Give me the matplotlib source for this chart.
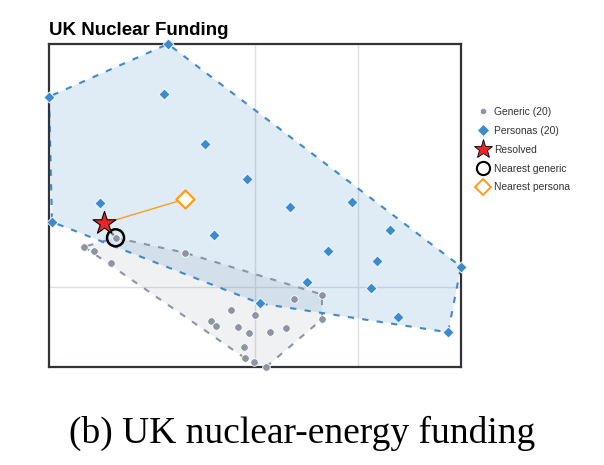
import numpy as np
import matplotlib
matplotlib.use("Agg")
import matplotlib.pyplot as plt
from matplotlib.lines import Line2D

# ---- data ----
persona_x = [-0.845, -2.0, -0.883, -0.485, -0.078, -1.505, -1.971, -0.398, 0.049, 0.340,
             0.942, 1.311, 0.709, 1.184, 0.505, 1.126, 1.388, 1.874, 2.0, -0.680]
persona_y = [2.369, 1.854, 1.883, 1.388, 1.049, 0.816, 0.631, 0.505, -0.165, 0.777,
             0.825, 0.553, 0.350, 0.252, 0.049, -0.019, -0.301, -0.447, 0.194, 0.854]
generic_x = [-1.660, -1.563, -1.398, -1.354, -0.680, 0.379, 0.650, 0.650, -0.233, 0.0,
             -0.427, -0.379, -0.165, -0.058, 0.146, 0.301, -0.107, -0.097, -0.010, 0.107]
generic_y = [0.388, 0.350, 0.233, 0.476, 0.330, -0.117, -0.078, -0.320, -0.233, -0.282,
             -0.340, -0.388, -0.398, -0.456, -0.447, -0.408, -0.592, -0.699, -0.738, -0.786]
resolved_xy = [-1.463, 0.618]
nearest_generic_idx = 3
nearest_persona_idx = 19

title = "UK Nuclear Funding"
caption = "(b) UK nuclear-energy funding"
legend_labels = ["Generic (20)", "Personas (20)", "Resolved", "Nearest generic", "Nearest persona"]

BLUE = "#3d8bcd"
GRAY = "#8e94a2"
ORANGE = "#ff9c1a"
RED = "#e8262a"


def hull(xs, ys):
    pts = sorted(set(zip(xs, ys)))
    def cross(o, a, b):
        return (a[0]-o[0])*(b[1]-o[1]) - (a[1]-o[1])*(b[0]-o[0])
    lower, upper = [], []
    for p in pts:
        while len(lower) >= 2 and cross(lower[-2], lower[-1], p) <= 0:
            lower.pop()
        lower.append(p)
    for p in reversed(pts):
        while len(upper) >= 2 and cross(upper[-2], upper[-1], p) <= 0:
            upper.pop()
        upper.append(p)
    h = lower[:-1] + upper[:-1]
    return np.array(h + [h[0]])


fig = plt.figure(figsize=(6.04, 4.65), dpi=100)
ax = fig.add_axes([49/604, 1-367/465, (461-49)/604, (367-44)/465])

ax.set_xlim(min(persona_x), max(persona_x))
ax.set_ylim(min(generic_y), max(persona_y))
ax.set_xticks([0, 1])
ax.set_yticks([0])
ax.tick_params(length=0, labelbottom=False, labelleft=False)
ax.grid(True, color="#dcdfe3", lw=1.0)
ax.set_axisbelow(True)
for s in ax.spines.values():
    s.set_color("#30343a")
    s.set_linewidth(1.6)

gh = hull(generic_x, generic_y)
ph = hull(persona_x, persona_y)
ax.fill(gh[:, 0], gh[:, 1], color=GRAY, alpha=0.13, lw=0, zorder=1)
ax.fill(ph[:, 0], ph[:, 1], color=BLUE, alpha=0.16, lw=0, zorder=1)
ax.plot(gh[:, 0], gh[:, 1], color=GRAY, lw=1.5, ls=(0, (3, 4)), zorder=2, clip_on=False)
ax.plot(ph[:, 0], ph[:, 1], color=BLUE, lw=1.5, ls=(0, (3, 4)), zorder=2, clip_on=False)

ax.scatter(generic_x, generic_y, s=30, marker="o", color=GRAY, edgecolors="white",
           linewidths=0.6, zorder=3, clip_on=False)
ax.scatter(persona_x, persona_y, s=32, marker="D", color=BLUE, edgecolors="white",
           linewidths=0.6, zorder=3, clip_on=False)

ngx, ngy = generic_x[nearest_generic_idx], generic_y[nearest_generic_idx]
npx, npy = persona_x[nearest_persona_idx], persona_y[nearest_persona_idx]
ax.plot([resolved_xy[0], npx], [resolved_xy[1], npy], color=ORANGE, lw=1.0, zorder=4)
ax.plot([resolved_xy[0], ngx], [resolved_xy[1], ngy], color="#777b82", lw=1.5, zorder=4)
ax.scatter([npx], [npy], s=85, marker="D", facecolors="white", edgecolors=ORANGE,
           linewidths=1.6, zorder=5)
ax.scatter([ngx], [ngy], s=150, marker="o", facecolors="none", edgecolors="black",
           linewidths=1.8, zorder=5)
ax.scatter([ngx], [ngy], s=30, marker="o", color=GRAY, edgecolors="white",
           linewidths=0.6, zorder=5)
ax.scatter([resolved_xy[0]], [resolved_xy[1]], s=300, marker="*", color=RED,
           edgecolors="black", linewidths=0.8, zorder=6)

ax.set_title(title, loc="left", fontsize=13.5, fontweight="bold",
             family="Liberation Sans", pad=6.5, x=0.0)

handles = [
    Line2D([], [], ls="none", marker="o", ms=4.5, color=GRAY, mec="white", mew=0.5),
    Line2D([], [], ls="none", marker="D", ms=6, color=BLUE, mec="white", mew=0.5),
    Line2D([], [], ls="none", marker="*", ms=14, color=RED, mec="black", mew=0.6),
    Line2D([], [], ls="none", marker="o", ms=9.5, mfc="none", mec="black", mew=1.5),
    Line2D([], [], ls="none", marker="D", ms=8.5, mfc="white", mec=ORANGE, mew=1.4),
]
leg = fig.legend(handles, legend_labels, loc="upper left",
                 bbox_to_anchor=(477.8/604, 1-107/465), frameon=False,
                 prop={"family": "Liberation Sans", "size": 7.4},
                 handlelength=1.0, handletextpad=0.58, labelspacing=0.86,
                 borderaxespad=0, borderpad=0)
for t in leg.get_texts():
    t.set_color("#333333")

fig.text(0.5, 1-433/465, caption, ha="center", va="center",
         family="Liberation Serif", fontsize=27)

fig.savefig("out.png", dpi=100)
